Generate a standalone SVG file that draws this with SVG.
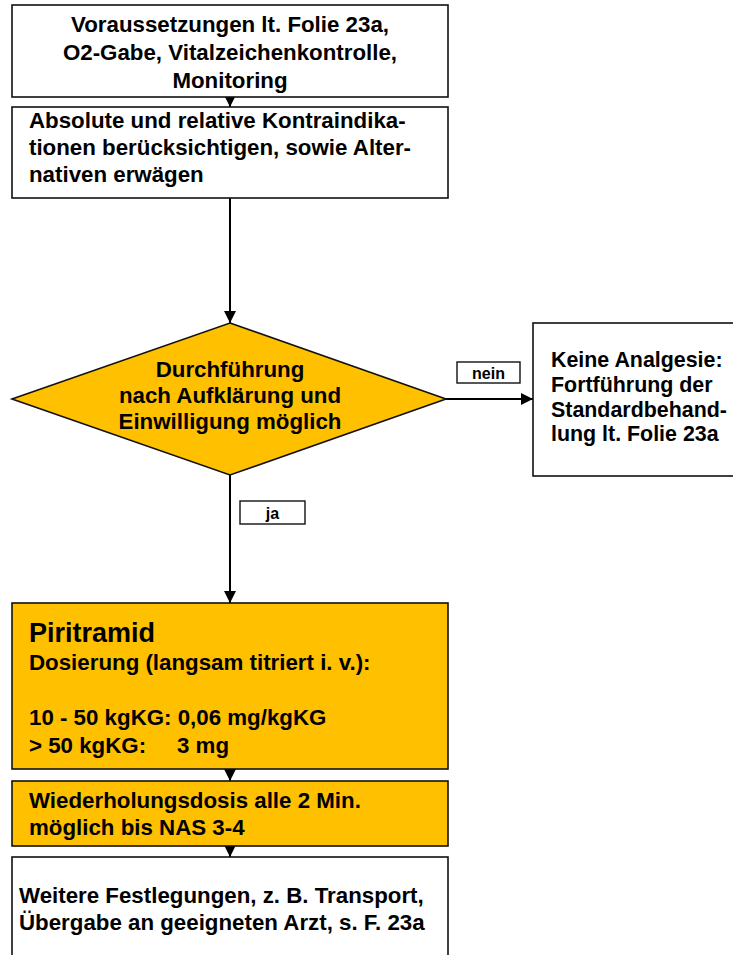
<svg xmlns="http://www.w3.org/2000/svg" width="733" height="955" viewBox="0 0 733 955">
  <style>
    .box { fill: #ffffff; stroke: #111111; stroke-width: 1.6; }
    .hl { fill: #ffc000; stroke: #111111; stroke-width: 1.6; }
    .tag { fill: #ffffff; stroke: #111111; stroke-width: 1.4; }
    .edge { fill: none; stroke: #000000; stroke-width: 2; }
    text { font-family: "Liberation Sans", Arial, sans-serif; font-weight: bold; font-size: 22.3px; fill: #000000; }
    .c { text-anchor: middle; }
    .big { font-size: 27px; }
    .small { font-size: 16px; }
    .side { font-size: 21.4px; }
  </style>
  <defs>
    <marker id="arrow" markerUnits="userSpaceOnUse" markerWidth="12" markerHeight="12" viewBox="0 0 12 12" refX="12" refY="6" orient="auto">
      <path d="M0,0 L12,6 L0,12 Z" fill="#000000"/>
    </marker>
  </defs>

  <!-- connectors -->
  <g id="connectors">
    <path class="edge" d="M230,96 V107" marker-end="url(#arrow)"/>
    <path class="edge" d="M230,198 V323" marker-end="url(#arrow)"/>
    <path class="edge" d="M446,399 H533" marker-end="url(#arrow)"/>
    <path class="edge" d="M230,475 V603" marker-end="url(#arrow)"/>
    <path class="edge" d="M230,768 V781" marker-end="url(#arrow)"/>
    <path class="edge" d="M230,845 V857" marker-end="url(#arrow)"/>
    <g id="label-nein">
      <rect class="tag" x="457" y="362" width="63" height="21"/>
      <text class="c small" x="488.5" y="378.5">nein</text>
    </g>
    <g id="label-ja">
      <rect class="tag" x="240" y="501" width="65" height="23"/>
      <text class="c small" x="272.5" y="518.5">ja</text>
    </g>
  </g>

  <g id="voraussetzungen">
    <rect class="box" x="12" y="5" width="436" height="92"/>
    <text class="c" x="230" y="32">Voraussetzungen lt. Folie 23a,</text>
    <text class="c" x="230" y="60">O2-Gabe, Vitalzeichenkontrolle,</text>
    <text class="c" x="230" y="88">Monitoring</text>
  </g>

  <g id="kontraindikationen">
    <rect class="box" x="12" y="107" width="436" height="91"/>
    <text x="29" y="128">Absolute und relative Kontraindika-</text>
    <text x="29" y="155">tionen berücksichtigen, sowie Alter-</text>
    <text x="29" y="182">nativen erwägen</text>
  </g>

  <g id="entscheidung">
    <polygon points="230,323 446,399 230,475 12,399" fill="#ffc000" stroke="#111111" stroke-width="1.6"/>
    <text class="c" x="230" y="377">Durchführung</text>
    <text class="c" x="230" y="403">nach Aufklärung und</text>
    <text class="c" x="230" y="429">Einwilligung möglich</text>
  </g>

  <g id="keine-analgesie">
    <rect class="box" x="533" y="323" width="215" height="153"/>
    <text class="side" x="551" y="367">Keine Analgesie:</text>
    <text class="side" x="551" y="392">Fortführung der</text>
    <text class="side" x="551" y="417">Standardbehand-</text>
    <text class="side" x="551" y="441">lung lt. Folie 23a</text>
  </g>

  <g id="piritramid">
    <rect class="hl" x="12" y="603" width="436" height="166"/>
    <text class="big" x="29" y="642">Piritramid</text>
    <text x="29" y="670">Dosierung (langsam titriert i. v.):</text>
    <text x="29" y="725">10 - 50 kgKG: 0,06 mg/kgKG</text>
    <text x="29" y="753">&gt; 50 kgKG:<tspan x="177">3 mg</tspan></text>
  </g>

  <g id="wiederholung">
    <rect class="hl" x="12" y="781" width="436" height="65"/>
    <text x="29" y="808">Wiederholungsdosis alle 2 Min.</text>
    <text x="29" y="835">möglich bis NAS 3-4</text>
  </g>

  <g id="weitere-festlegungen">
    <rect class="box" x="12" y="857" width="436" height="110"/>
    <text x="19" y="903">Weitere Festlegungen, z. B. Transport,</text>
    <text x="19" y="930">Übergabe an geeigneten Arzt, s. F. 23a</text>
  </g>
</svg>
